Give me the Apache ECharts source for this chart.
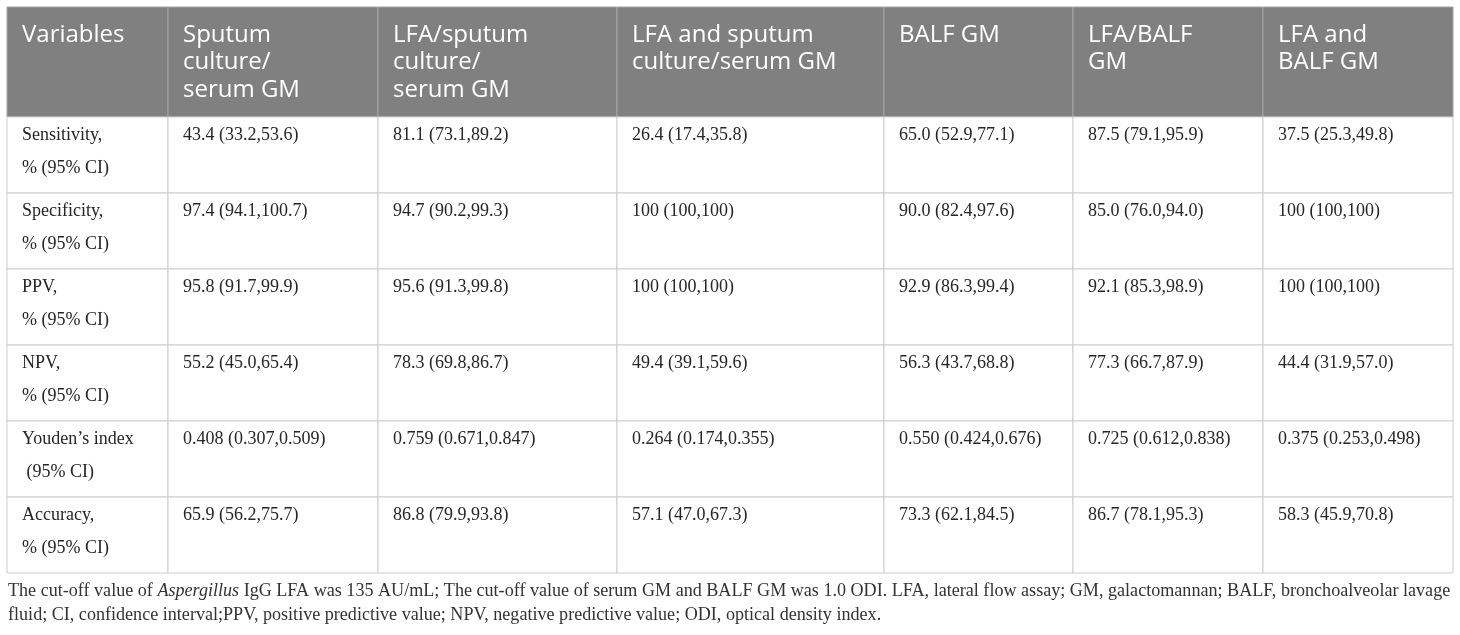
<!DOCTYPE html>
<html lang="en">
<head>
<meta charset="utf-8">
<title>LFA diagnostic performance</title>
<script src="https://cdn.jsdelivr.net/npm/echarts@6/dist/echarts.min.js"></script>
<style>
    html, body { margin: 0; padding: 0; background: #fff; }
    #main { width: 1460px; height: 635px; }
</style>
</head>
<body>
<div id="main"></div>
<script type="text/javascript">
    // table content
    var columns = ['Variables', 'Sputum\nculture/\nserum GM', 'LFA/sputum\nculture/\nserum GM',
        'LFA and sputum\nculture/serum GM', 'BALF GM', 'LFA/BALF\nGM', 'LFA and\nBALF GM'];
    var rowLabels = ['Sensitivity,\n% (95% CI)', 'Specificity,\n% (95% CI)', 'PPV,\n% (95% CI)',
        'NPV,\n% (95% CI)', 'Youden\u2019s index\n (95% CI)', 'Accuracy,\n% (95% CI)'];
    var sputumCulture = ['43.4 (33.2,53.6)', '97.4 (94.1,100.7)', '95.8 (91.7,99.9)', '55.2 (45.0,65.4)', '0.408 (0.307,0.509)', '65.9 (56.2,75.7)'];
    var lfaSputum = ['81.1 (73.1,89.2)', '94.7 (90.2,99.3)', '95.6 (91.3,99.8)', '78.3 (69.8,86.7)', '0.759 (0.671,0.847)', '86.8 (79.9,93.8)'];
    var lfaAndSputum = ['26.4 (17.4,35.8)', '100 (100,100)', '100 (100,100)', '49.4 (39.1,59.6)', '0.264 (0.174,0.355)', '57.1 (47.0,67.3)'];
    var balfGM = ['65.0 (52.9,77.1)', '90.0 (82.4,97.6)', '92.9 (86.3,99.4)', '56.3 (43.7,68.8)', '0.550 (0.424,0.676)', '73.3 (62.1,84.5)'];
    var lfaBalf = ['87.5 (79.1,95.9)', '85.0 (76.0,94.0)', '92.1 (85.3,98.9)', '77.3 (66.7,87.9)', '0.725 (0.612,0.838)', '86.7 (78.1,95.3)'];
    var lfaAndBalf = ['37.5 (25.3,49.8)', '100 (100,100)', '100 (100,100)', '44.4 (31.9,57.0)', '0.375 (0.253,0.498)', '58.3 (45.9,70.8)'];
    var footLine1 = 'The cut-off value of {i|Aspergillus} IgG LFA was 135 AU/mL; The cut-off value of serum GM and BALF GM was 1.0 ODI. LFA, lateral flow assay; GM, galactomannan; BALF, bronchoalveolar lavage';
    var footLine2 = 'fluid; CI, confidence interval;PPV, positive predictive value; NPV, negative predictive value; ODI, optical density index.';

    var valueColumns = [rowLabels, sputumCulture, lfaSputum, lfaAndSputum, balfGM, lfaBalf, lfaAndBalf];

    // layout (axis units = px)
    var colWidths = [161, 210, 239, 267, 189, 190, 190];
    var headerHeight = 110;
    var rowHeight = 76;

    var tableWidth = colWidths.reduce(function (a, b) { return a + b; }, 0);
    var tableHeight = headerHeight + rowHeight * rowLabels.length;

    var cells = [];
    var x0 = 0;
    for (var c = 0; c < columns.length; c++) {
        var x1 = x0 + colWidths[c];
        cells.push([x0, x1, 0, headerHeight, 0, c]);
        for (var r = 0; r < rowLabels.length; r++) {
            var y0 = headerHeight + r * rowHeight;
            cells.push([x0, x1, y0, y0 + rowHeight, r + 1, c]);
        }
        x0 = x1;
    }

    var serif = '"Liberation Serif", "DejaVu Serif", serif';
    var sans = '"Open Sans", "Noto Sans", sans-serif';

    function cellText(r, c) {
        return r === 0 ? columns[c] : valueColumns[c][r - 1];
    }

    var myChart = echarts.init(document.getElementById('main'));

    var option = {
        animation: false,
        grid: { left: 7, top: 7, width: tableWidth, height: tableHeight },
        xAxis: { type: 'value', min: 0, max: tableWidth, show: false },
        yAxis: { type: 'value', min: 0, max: tableHeight, inverse: true, show: false },
        series: [{
            type: 'custom',
            coordinateSystem: 'cartesian2d',
            encode: { x: [0, 1], y: [2, 3] },
            data: cells,
            renderItem: function (params, api) {
                var p0 = api.coord([api.value(0), api.value(2)]);
                var p1 = api.coord([api.value(1), api.value(3)]);
                var r = api.value(4), c = api.value(5);
                var head = r === 0;
                return {
                    type: 'group',
                    children: [{
                        type: 'rect',
                        shape: { x: p0[0], y: p0[1], width: p1[0] - p0[0], height: p1[1] - p0[1] },
                        style: { fill: head ? '#808080' : '#ffffff', stroke: head ? '#a3a3a3' : '#cdcdcd', lineWidth: 1 }
                    }, {
                        type: 'text',
                        style: {
                            text: cellText(r, c),
                            x: p0[0] + 15,
                            y: p0[1] + (head ? 14 : 2),
                            verticalAlign: 'top',
                            align: 'left',
                            fill: head ? '#ffffff' : '#262626',
                            fontFamily: head ? sans : serif,
                            fontSize: head ? 24 : 18,
                            lineHeight: head ? 27.5 : 33
                        }
                    }]
                };
            }
        }],
        graphic: [{
            type: 'text',
            style: {
                text: footLine1, x: 8, y: 591, verticalAlign: 'middle',
                fill: '#333333', fontFamily: serif, fontSize: 18.1,
                rich: { i: { fontStyle: 'italic', fontFamily: serif, fontSize: 18.1, fill: '#333333' } }
            }
        }, {
            type: 'text',
            style: {
                text: footLine2, x: 8, y: 615, verticalAlign: 'middle',
                fill: '#333333', fontFamily: serif, fontSize: 18.1
            }
        }]
    };

    myChart.setOption(option);
</script>
</body>
</html>
